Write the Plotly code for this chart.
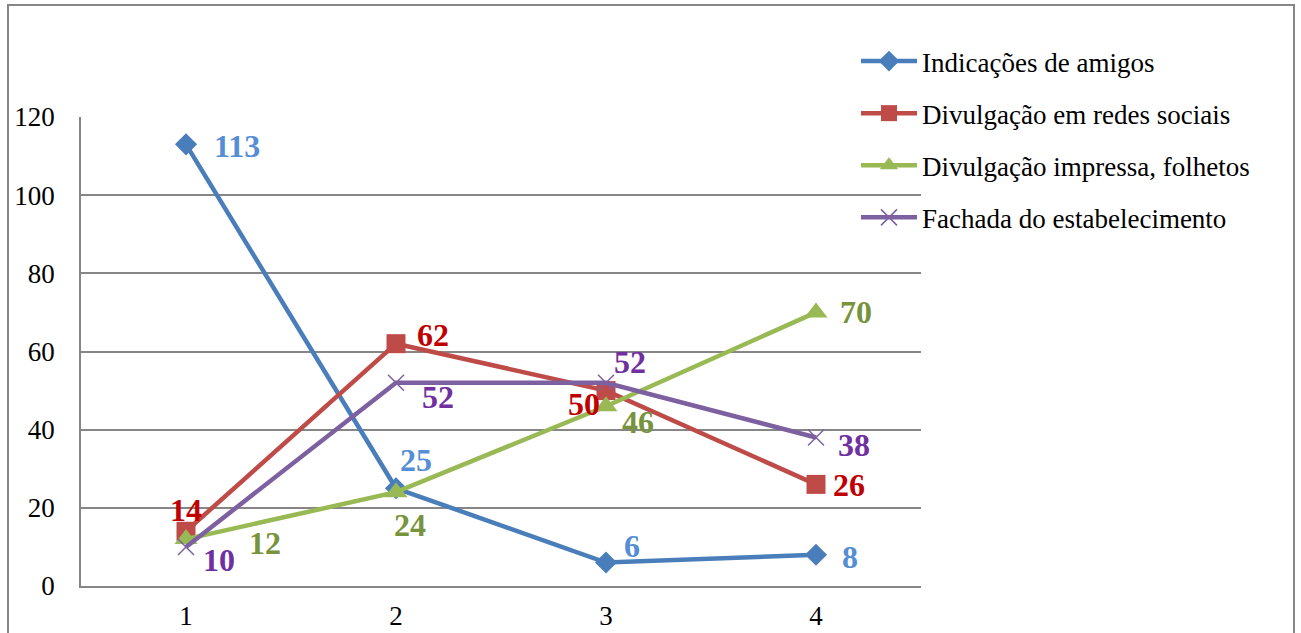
import plotly.graph_objects as go

categories = [1, 2, 3, 4]
series_names = [
    "Indicações de amigos",
    "Divulgação em redes sociais",
    "Divulgação impressa, folhetos",
    "Fachada do estabelecimento",
]
indicacoes = [113, 25, 6, 8]
redes_sociais = [14, 62, 50, 26]
impressa = [12, 24, 46, 70]
fachada = [10, 52, 52, 38]
y_ticks = [0, 20, 40, 60, 80, 100, 120]

series_values = [indicacoes, redes_sociais, impressa, fachada]
line_colors = ["#4A7EBB", "#BE4B48", "#98B954", "#7D60A0"]
label_colors = ["#558ED5", "#C00000", "#77933C", "#7030A0"]
symbols = ["diamond", "square", "triangle-up", "x-thin"]
marker_sizes = [17, 19, 20, 16]

# per-point label offsets (pixels) around each marker
label_offsets = [
    [(51, -2), (20, 28), (26, 17), (34, -2)],
    [(0, 21), (37, 9), (-22, -13), (33, -1)],
    [(79, -4), (14, -33), (32, -16), (40, 0)],
    [(33, -13), (42, -14), (24, 21), (38, -8)],
]

FONT = "Liberation Serif"

fig = go.Figure()
annotations = []
for i, (name, vals) in enumerate(zip(series_names, series_values)):
    marker = dict(symbol=symbols[i], size=marker_sizes[i], color=line_colors[i])
    if symbols[i] == "x-thin":
        marker["line"] = dict(width=1.5, color=line_colors[i])
    fig.add_trace(go.Scatter(
        x=categories, y=vals, name=name, mode="lines+markers",
        line=dict(color=line_colors[i], width=4.5),
        marker=marker, legendgroup=name, cliponaxis=False,
    ))
    for j, (cx, v) in enumerate(zip(categories, vals)):
        dx, dy = label_offsets[i][j]
        annotations.append(dict(
            x=cx, y=v, text=f"<b>{v}</b>", showarrow=False,
            xshift=dx, yshift=dy, xanchor="center", yanchor="middle",
            font=dict(family=FONT, size=32, color=label_colors[i]),
        ))

W, H = 1301, 633
L, R, T, B = 81, 380, 117, 47
pw, ph = W - L - R, H - T - B


def px_x(p):
    return (p - L) / pw


def px_y(p):
    return (H - B - p) / ph


fig.update_layout(
    width=W, height=H,
    margin=dict(l=L, r=R, t=T, b=B, autoexpand=False),
    paper_bgcolor="white", plot_bgcolor="white",
    font=dict(family=FONT, size=27, color="black"),
    annotations=annotations,
    showlegend=True,
    legend=dict(
        x=px_x(856), xanchor="left", y=px_y(37), yanchor="top",
        bgcolor="rgba(0,0,0,0)", tracegroupgap=14, itemwidth=56,
        font=dict(family=FONT, size=27, color="black"),
    ),
    xaxis=dict(
        range=[0.5, 4.5], tickvals=categories, showgrid=False,
        showline=True, linecolor="#868686", linewidth=1.5,
        zeroline=False, ticks="", ticklabelstandoff=5, automargin=False,
        tickfont=dict(family=FONT, size=27),
    ),
    yaxis=dict(
        range=[0, 120], tickvals=y_ticks, showgrid=True,
        gridcolor="#868686", gridwidth=1.5,
        showline=True, linecolor="#868686", linewidth=1.5,
        zeroline=False, ticks="", ticklabelstandoff=19, automargin=False,
        tickfont=dict(family=FONT, size=27),
    ),
    shapes=[dict(
        type="rect", xref="paper", yref="paper",
        x0=px_x(8), x1=px_x(1294), y0=px_y(660), y1=px_y(5),
        line=dict(color="#868686", width=2), fillcolor="rgba(0,0,0,0)",
        layer="below",
    )],
)

fig.write_html("out.html")
